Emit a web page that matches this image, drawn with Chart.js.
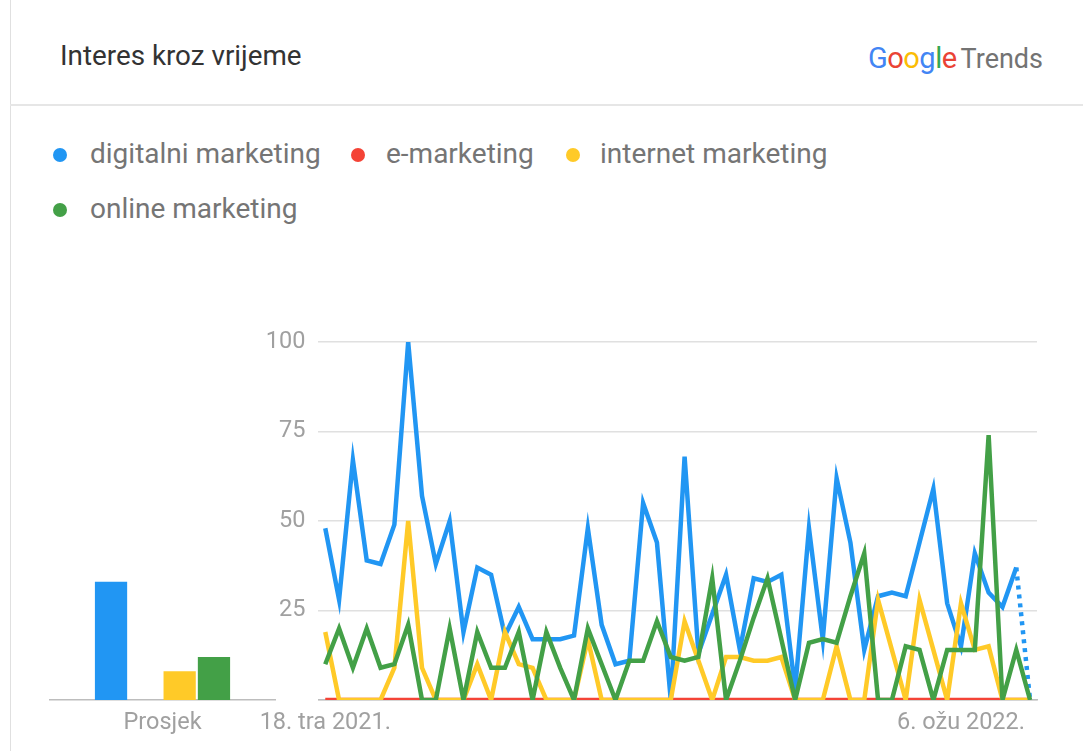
<!DOCTYPE html>
<html>
<head>
<meta charset="utf-8">
<script src="https://cdn.jsdelivr.net/npm/chart.js@4.4.1/dist/chart.umd.min.js"></script>
<style>
  body { margin: 0; background: #fff; font-family: Roboto, 'Noto Sans', sans-serif; }
  #card { position: relative; width: 1083px; height: 751px; overflow: hidden; background: #fff; }
  .vline { position: absolute; left: 10px; top: 0; width: 1px; height: 751px; background: #e0e0e0; }
  .hline { position: absolute; left: 10px; top: 104px; width: 1073px; height: 2px; background: #e6e6e6; }
  #title { position: absolute; left: 60px; top: 38px; font-size: 27.8px; line-height: 36px; color: #333; }
  #brand { position: absolute; left: 868px; top: 40px; line-height: 36px; white-space: nowrap; }
  #brand .g { font-size: 29px; letter-spacing: -0.5px; }
  #brand .t { font-size: 27px; color: #737373; margin-left: 4px; }
  .item { position: absolute; font-size: 28px; line-height: 36px; color: #757575; white-space: nowrap; }
  .dot { position: absolute; width: 14px; height: 14px; border-radius: 50%; }
  canvas { position: absolute; }
</style>
</head>
<body>
<div id="card">
  <div class="vline"></div>
  <div class="hline"></div>
  <div id="title">Interes kroz vrijeme</div>
  <div id="brand"><span class="g"><span style="color:#4285F4">G</span><span style="color:#EA4335">o</span><span style="color:#FBBC05">o</span><span style="color:#4285F4">g</span><span style="color:#34A853">l</span><span style="color:#EA4335">e</span></span><span class="t">Trends</span></div>
  <div id="legend"></div>
  <canvas id="avg" width="240" height="420" style="left:40px;top:320px"></canvas>
  <canvas id="trend" width="800" height="425" style="left:250px;top:315px"></canvas>
</div>
<script>
'use strict';

// ---- data -------------------------------------------------------------
const terms = ['digitalni marketing', 'e-marketing', 'internet marketing', 'online marketing'];
const colors = ['#2196F3', '#F44336', '#FFCA28', '#43A047'];

// weekly interest, 52 weeks from 18. tra 2021. (last week is partial)
const digitalni = [48, 28, 67, 39, 38, 49, 100, 57, 38, 50, 19, 37, 35, 18, 26, 17, 17, 17, 18, 48,
  21, 10, 11, 55, 44, 0, 68, 13, 24, 35, 14, 34, 33, 35, 3, 48, 17, 62, 44, 14,
  29, 30, 29, 44, 59, 27, 15, 41, 30, 26, 37, 0];
const eMarketing = [0, 0, 0, 0, 0, 0, 0, 0, 0, 0, 0, 0, 0, 0, 0, 0, 0, 0, 0, 0,
  0, 0, 0, 0, 0, 0, 0, 0, 0, 0, 0, 0, 0, 0, 0, 0, 0, 0, 0, 0,
  0, 0, 0, 0, 0, 0, 0, 0, 0, 0, 0, 0];
const internet = [19, 0, 0, 0, 0, 9, 50, 9, 0, 0, 0, 10, 0, 19, 10, 9, 0, 0, 0, 17,
  0, 0, 0, 0, 0, 0, 22, 11, 0, 12, 12, 11, 11, 12, 0, 0, 0, 15, 0, 0,
  28, 14, 0, 28, 14, 0, 27, 14, 15, 0, 0, 0];
const online = [10, 20, 9, 20, 9, 10, 21, 0, 0, 20, 0, 19, 9, 9, 19, 0, 19, 9, 0, 20,
  10, 0, 11, 11, 22, 12, 11, 12, 34, 0, 11, 23, 34, 17, 0, 16, 17, 16, 29, 41,
  0, 0, 15, 14, 0, 14, 14, 14, 74, 0, 14, 0];
const averages = [33, 0, 8, 12];

const yTicks = [25, 50, 75, 100];
const xTickLabels = { 0: '18. tra 2021.', 46: '6. ožu 2022.' };
const weeks = digitalni.map((_, i) => i);

// ---- legend -----------------------------------------------------------
const legendPos = [[60, 90, 155], [358, 386, 155], [573, 600, 155], [60, 90, 210]];
const legendEl = document.getElementById('legend');
terms.forEach((t, i) => {
  const [dx, tx, cy] = legendPos[i];
  const d = document.createElement('div');
  d.className = 'dot';
  d.style.cssText = `left:${dx - 7}px;top:${cy - 7}px;background:${colors[i]}`;
  const s = document.createElement('div');
  s.className = 'item';
  s.style.cssText = `left:${tx}px;top:${cy - 19}px`;
  s.textContent = t;
  legendEl.appendChild(d);
  legendEl.appendChild(s);
});

// ---- charts -----------------------------------------------------------
const tickFont = { family: 'Roboto', size: 23.5 };
const tickColor = '#a0a0a0';
const axisColor = '#bdbdbd';

new Chart(document.getElementById('avg'), {
  type: 'bar',
  data: {
    labels: ['Prosjek'],
    datasets: terms.map((t, i) => ({ label: t, data: [averages[i]], backgroundColor: colors[i] })),
  },
  options: {
    responsive: false,
    animation: false,
    layout: { padding: { top: 22, left: 10, right: 5, bottom: 0 } },
    datasets: { bar: { categoryPercentage: 0.61, barPercentage: 0.94 } },
    plugins: { legend: { display: false }, tooltip: { enabled: false } },
    scales: {
      x: {
        grid: { display: false, drawTicks: false },
        border: { display: true, color: axisColor, width: 1.5 },
        ticks: { padding: 9, font: tickFont, color: tickColor },
        afterFit: (s) => { s.height = 40; },
      },
      y: { display: false, min: 0, max: 100 },
    },
  },
});

const series = [digitalni, eMarketing, internet, online];
const drawOrder = [2, 3, 1, 0];
const lastIdx = weeks.length - 1;

new Chart(document.getElementById('trend'), {
  type: 'line',
  data: {
    labels: weeks,
    datasets: series.map((data, i) => ({
      label: terms[i],
      data,
      borderColor: colors[i],
      order: drawOrder[i],
      segment: i === 0 ? { borderDash: (ctx) => (ctx.p1DataIndex === lastIdx ? [4, 5] : undefined) } : undefined,
    })),
  },
  options: {
    responsive: false,
    animation: false,
    layout: { padding: { top: 17, right: 13, left: 0, bottom: 0 } },
    elements: {
      point: { radius: 0 },
      line: { borderWidth: 4.5, tension: 0, borderJoinStyle: 'miter', borderCapStyle: 'butt', fill: false },
    },
    plugins: { legend: { display: false }, tooltip: { enabled: false } },
    scales: {
      x: {
        offset: true,
        grid: { display: false, drawTicks: false },
        border: { display: true, color: axisColor, width: 1.5 },
        ticks: {
          autoSkip: false, maxRotation: 0, padding: 9, font: tickFont, color: tickColor,
          callback: (v, i) => xTickLabels[i] || '',
        },
        afterFit: (s) => { s.height = 40; },
      },
      y: {
        min: 0, max: 100,
        afterBuildTicks: (s) => { s.ticks = [0].concat(yTicks).map((v) => ({ value: v })); },
        ticks: { padding: 13, font: tickFont, color: tickColor, callback: (v) => (v === 0 ? '' : v) },
        grid: { color: '#e0e0e0', lineWidth: 1.5, drawTicks: false },
        border: { display: false },
        afterFit: (s) => { s.width = 66; },
      },
    },
  },
});
</script>
</body>
</html>
